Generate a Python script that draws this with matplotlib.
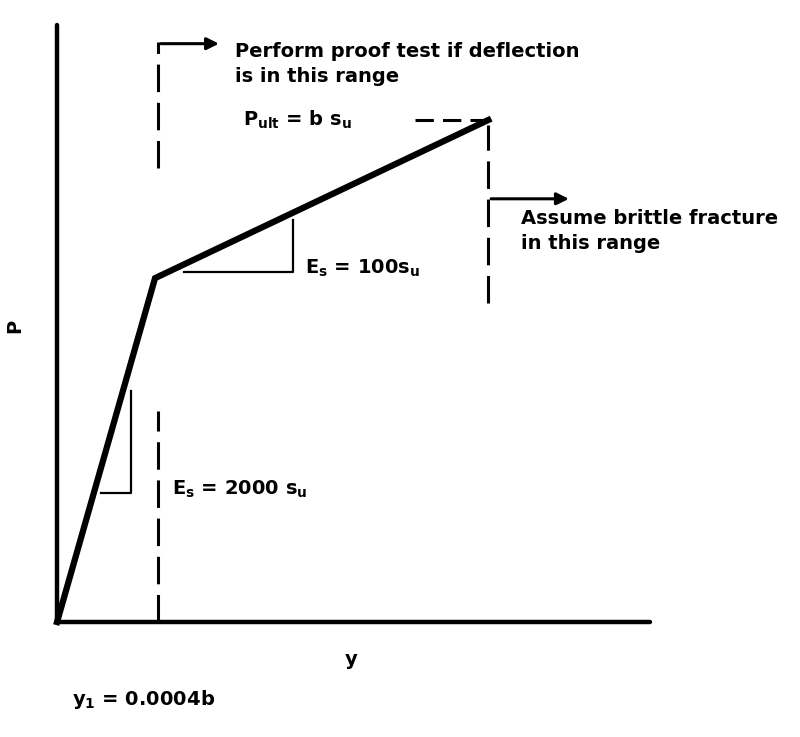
import matplotlib.pyplot as plt

# load-deflection curve, in units of y1 (x) and P_ult (P)
defl = [0.0, 1.0, 4.4]
load = [0.0, 0.685, 1.0]
axis_x_end = 6.05
axis_p_end = 1.19

fig = plt.figure(figsize=(8, 7.37), dpi=100)
ax = fig.add_axes([0, 0, 1, 1])
ax.set_xlim(-0.582, 7.58)
ax.set_ylim(-0.229, 1.239)
ax.axis('off')

fnt = dict(family='DejaVu Sans', fontweight='bold', color='black')
fs = 14

# axes
ax.plot([0, 0, axis_x_end], [axis_p_end, 0, 0], color='black', lw=3.2,
	solid_capstyle='round', solid_joinstyle='round')
# curve
ax.plot(defl, load, color='black', lw=4.5, solid_joinstyle='miter')

dash = dict(color='black', lw=2.2, linestyle=(0, (9, 3.5)))
# dashed verticals at y1
ax.plot([1.03, 1.03], [0, 0.42], **dash)
ax.plot([1.03, 1.03], [0.905, 1.155], **dash)
# dashed verticals at ultimate
ax.plot([4.4, 4.4], [0.635, 0.99], **dash)
ax.plot([3.65, 4.4], [1.0, 1.0], color='black', lw=2.2, linestyle=(0, (6, 3)))

# arrows
ax.annotate('', xy=(1.68, 1.152), xytext=(1.03, 1.152),
	arrowprops=dict(arrowstyle='-|>', color='black', lw=2.2, mutation_scale=18))
ax.annotate('', xy=(5.25, 0.843), xytext=(4.4, 0.843),
	arrowprops=dict(arrowstyle='-|>', color='black', lw=2.2, mutation_scale=18))

# slope triangles
ax.plot([1.3, 2.41, 2.41], [0.697, 0.697, 0.8], color='black', lw=1.6)
ax.plot([0.45, 0.755, 0.755], [0.258, 0.258, 0.46], color='black', lw=1.6)

# text
ax.text(1.82, 1.155, 'Perform proof test if deflection\nis in this range', fontsize=fs,
	va='top', ha='left', linespacing=1.4, **fnt)
ax.text(1.9, 1.0, r'$\mathbf{P_{ult}}$ = b s$_\mathbf{u}$', fontsize=fs, va='center', ha='left', **fnt)
ax.text(2.53, 0.705, r'E$_\mathbf{s}$ = 100s$_\mathbf{u}$', fontsize=fs, va='center', ha='left', **fnt)
ax.text(4.73, 0.822, 'Assume brittle fracture\nin this range', fontsize=fs,
	va='top', ha='left', linespacing=1.4, **fnt)
ax.text(1.17, 0.265, r'E$_\mathbf{s}$ = 2000 s$_\mathbf{u}$', fontsize=fs, va='center', ha='left', **fnt)
ax.text(3.0, -0.075, 'y', fontsize=14, va='center', ha='center', **fnt)
ax.text(0.15, -0.155, r'y$_\mathbf{1}$ = 0.0004b', fontsize=fs, va='center', ha='left', **fnt)
ax.text(-0.43, 0.59, 'P', fontsize=14, va='center', ha='center', rotation=90, **fnt)

fig.savefig('out.png', dpi=100)
